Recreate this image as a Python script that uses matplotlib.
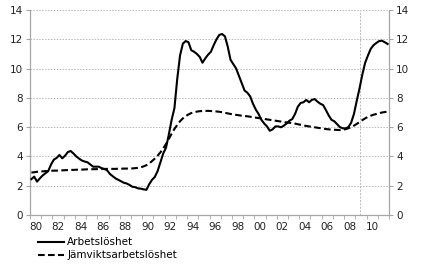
import matplotlib
matplotlib.use("Agg")
import matplotlib.pyplot as plt
import numpy as np

# Quarterly data 1980Q1 .. 2011Q4
years = list(range(1980, 2012))
arbetsloshet = [
    2.45, 2.62, 2.28, 2.50,   # 1980
    2.70, 2.85, 3.00, 3.45,   # 1981
    3.78, 3.90, 4.10, 3.87,   # 1982
    4.05, 4.30, 4.37, 4.20,   # 1983
    4.00, 3.85, 3.72, 3.65,   # 1984
    3.60, 3.45, 3.30, 3.30,   # 1985
    3.30, 3.20, 3.15, 3.05,   # 1986
    2.80, 2.65, 2.50, 2.40,   # 1987
    2.30, 2.20, 2.15, 2.05,   # 1988
    1.93, 1.90, 1.82, 1.80,   # 1989
    1.75, 1.72, 2.10, 2.40,   # 1990
    2.60, 3.00, 3.60, 4.20,   # 1991
    4.60, 5.50, 6.50, 7.30,   # 1992
    9.30, 10.90, 11.70, 11.88,  # 1993
    11.80, 11.25, 11.15, 11.00,  # 1994
    10.80, 10.40, 10.70, 10.95,  # 1995
    11.15, 11.60, 12.00, 12.30,  # 1996
    12.36, 12.20, 11.50, 10.60,  # 1997
    10.30, 10.00, 9.50, 9.00,   # 1998
    8.50, 8.35, 8.10, 7.60,     # 1999
    7.20, 6.90, 6.50, 6.25,     # 2000
    6.05, 5.75, 5.85, 6.05,     # 2001
    6.05, 5.99, 6.10, 6.25,     # 2002
    6.44, 6.55, 6.90, 7.40,     # 2003
    7.65, 7.70, 7.86, 7.70,     # 2004
    7.86, 7.92, 7.74, 7.60,     # 2005
    7.51, 7.17, 6.80, 6.50,     # 2006
    6.40, 6.20, 6.00, 5.92,     # 2007
    5.92, 6.00, 6.30, 6.90,     # 2008
    7.80, 8.65, 9.60, 10.40,    # 2009
    10.90, 11.35, 11.60, 11.75,  # 2010
    11.88, 11.90, 11.80, 11.68,  # 2011
]
jamviktsarbetsloshet = [
    2.90, 2.92, 2.95, 2.97,   # 1980
    2.98, 3.00, 3.00, 3.02,   # 1981
    3.03, 3.03, 3.04, 3.05,   # 1982
    3.06, 3.07, 3.08, 3.08,   # 1983
    3.09, 3.10, 3.10, 3.11,   # 1984
    3.12, 3.12, 3.13, 3.13,   # 1985
    3.14, 3.14, 3.14, 3.15,   # 1986
    3.15, 3.15, 3.15, 3.16,   # 1987
    3.16, 3.17, 3.17, 3.18,   # 1988
    3.18, 3.20, 3.22, 3.26,   # 1989
    3.32, 3.40, 3.52, 3.68,   # 1990
    3.85, 4.05, 4.28, 4.55,   # 1991
    4.85, 5.20, 5.55, 5.88,   # 1992
    6.15, 6.40, 6.60, 6.75,   # 1993
    6.87, 6.96, 7.02, 7.06,   # 1994
    7.09, 7.10, 7.11, 7.11,   # 1995
    7.10, 7.09, 7.07, 7.05,   # 1996
    7.02, 6.98, 6.94, 6.90,   # 1997
    6.87, 6.84, 6.81, 6.78,   # 1998
    6.76, 6.74, 6.71, 6.68,   # 1999
    6.65, 6.62, 6.59, 6.56,   # 2000
    6.53, 6.50, 6.47, 6.44,   # 2001
    6.41, 6.38, 6.35, 6.32,   # 2002
    6.30, 6.27, 6.24, 6.20,   # 2003
    6.16, 6.12, 6.08, 6.05,   # 2004
    6.02, 5.99, 5.96, 5.93,   # 2005
    5.90, 5.87, 5.85, 5.83,   # 2006
    5.82, 5.81, 5.80, 5.82,   # 2007
    5.86, 5.92, 6.00, 6.10,   # 2008
    6.22, 6.35, 6.48, 6.60,   # 2009
    6.70, 6.78, 6.85, 6.90,   # 2010
    6.95, 7.00, 7.03, 7.06,   # 2011
]
year_labels = ["80", "82", "84", "86", "88", "90", "92", "94", "96", "98",
               "00", "02", "04", "06", "08", "10"]
series_names = ["Arbetslöshet", "Jämviktsarbetslöshet"]
divider_year = 2009.45

t = np.array([y + (q + 0.5) / 4 for y in years for q in range(4)])

plt.rcParams["font.family"] = ["DejaVu Sans"]
plt.rcParams["font.size"] = 7

fig = plt.figure(figsize=(4.21, 2.66), dpi=100)
ax = fig.add_axes([30 / 421, 51 / 266, 359 / 421, 205 / 266])

grey = "#a6a6a6"
ax.set_xlim(1980, 2012)
ax.set_ylim(0, 14)
ax.set_yticks(range(0, 15, 2))
ax.yaxis.grid(True, linestyle=(0, (1.5, 1.5)), color="#b8b8b8", linewidth=0.7)
ax.set_axisbelow(True)

ax.axvline(divider_year, color="#b8b8b8", linestyle=(0, (2, 1.5)), linewidth=0.7, zorder=1)

ax.plot(t, arbetsloshet, color="black", linewidth=1.5, label=series_names[0], zorder=3)
ax.plot(t, jamviktsarbetsloshet, color="black", linewidth=1.5, linestyle=(0, (3.2, 1.6)),
        label=series_names[1], zorder=3)

major = [1980.5 + 2 * i for i in range(len(year_labels))]
ax.set_xticks(major)
ax.set_xticklabels(year_labels)
ax.set_xticks(range(1980, 2013), minor=True)
ax.tick_params(axis="x", which="major", length=0, pad=5, labelsize=7.5, colors="#222222")
ax.tick_params(axis="x", which="minor", length=3, direction="out", color=grey)
ax.tick_params(axis="y", which="major", left=True, right=True, labelleft=True, labelright=True,
               length=3, color=grey, labelsize=7.5, colors="#222222", pad=2)
for s in ["left", "right", "bottom"]:
    ax.spines[s].set_color(grey)
    ax.spines[s].set_linewidth(0.9)
ax.spines["top"].set_visible(False)

leg = ax.legend(loc="upper left", bbox_to_anchor=(33 / 421, 1 - 232 / 266),
                bbox_transform=fig.transFigure, frameon=False, borderpad=0,
                handlelength=2.5, handletextpad=0.3, labelspacing=0.3,
                fontsize=7.5)

fig.savefig("out.png", dpi=100)
